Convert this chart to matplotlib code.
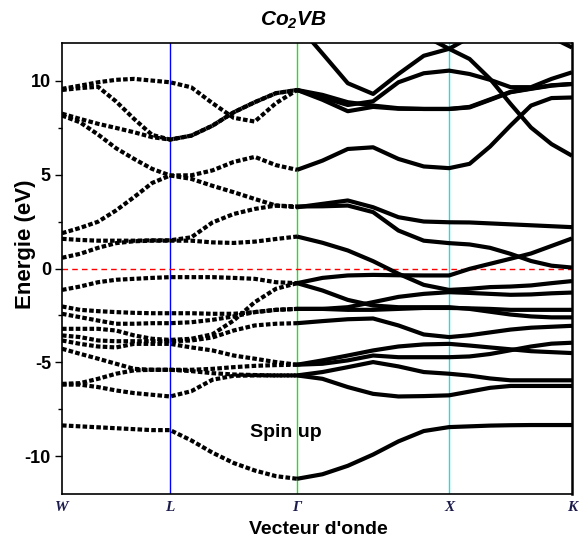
import numpy as np
import matplotlib
matplotlib.use("Agg")
import matplotlib.pyplot as plt

# ============================================================
# Data (energies in eV read at 7 k-points per segment W-L-G-X-K)
# ============================================================

k_labels = ["W", "L", "Γ", "X", "K"]
k_sym = [0.0, 0.212, 0.461, 0.759, 1.0]
k_vlines = [0.212, 0.461, 0.759]
vline_colors = ["#0000ff", "#22dd22", "#22dddd"]

band_01 = [-8.35, -8.4, -8.45, -8.5, -8.55, -8.6, -8.6, -9.15, -9.8, -10.35, -10.75, -11.05, -11.19,
           -10.95, -10.5, -9.9, -9.2, -8.65, -8.44, -8.4, -8.36, -8.34, -8.33, -8.33, -8.33]
band_02 = [-6.18, -6.18, -6.31, -6.49, -6.63, -6.72, -6.81, -6.53, -5.92, -5.71, -5.69, -5.69, -5.69,
           -5.87, -6.31, -6.67, -6.81, -6.79, -6.75, -6.55, -6.35, -6.25, -6.25, -6.25, -6.25]
band_03 = [-6.14, -6.1, -5.87, -5.6, -5.42, -5.39, -5.39, -5.46, -5.57, -5.64, -5.67, -5.69, -5.69,
           -5.51, -5.25, -4.98, -5.21, -5.51, -5.6, -5.7, -5.85, -5.95, -5.95, -5.95, -5.95]
band_04 = [-4.27, -4.54, -4.8, -5.07, -5.34, -5.39, -5.39, -5.39, -5.34, -5.25, -5.18, -5.14, -5.12,
           -5.07, -4.89, -4.63, -4.72, -4.72, -4.72, -4.68, -4.55, -4.35, -4.15, -4.0, -3.95]
band_05 = [-3.83, -4.01, -4.15, -4.2, -4.01, -4.01, -4.01, -4.2, -4.36, -4.63, -4.8, -4.98, -5.12,
           -4.89, -4.63, -4.36, -4.15, -4.04, -4.01, -4.1, -4.2, -4.3, -4.4, -4.45, -4.5]
band_06 = [-3.56, -3.65, -3.83, -3.87, -3.87, -3.87, -3.87, -3.83, -3.67, -3.3, -3.03, -2.94, -2.91,
           -2.8, -2.7, -2.66, -3.03, -3.51, -3.65, -3.55, -3.4, -3.25, -3.15, -3.1, -3.05]
band_07 = [-3.21, -3.21, -3.21, -3.3, -3.56, -3.74, -3.8, -3.74, -3.5, -2.77, -1.79, -1.08, -0.78,
           -1.17, -1.67, -1.97, -2.06, -2.06, -2.06, -2.15, -2.3, -2.45, -2.55, -2.6, -2.6]
band_08 = [-2.41, -2.59, -2.77, -2.94, -2.94, -2.91, -2.91, -2.86, -2.73, -2.55, -2.32, -2.2, -2.15,
           -2.15, -2.06, -1.79, -1.51, -1.35, -1.26, -1.3, -1.35, -1.4, -1.38, -1.32, -1.28]
band_09 = [-2.02, -2.2, -2.27, -2.32, -2.36, -2.38, -2.38, -2.38, -2.41, -2.41, -2.32, -2.2, -2.15,
           -2.15, -2.2, -2.2, -2.15, -2.1, -2.1, -2.12, -2.15, -2.2, -2.2, -2.2, -2.2]
band_10 = [-1.14, -0.96, -0.73, -0.6, -0.55, -0.5, -0.46, -0.46, -0.46, -0.5, -0.55, -0.73, -0.78,
           -0.5, -0.37, -0.34, -0.36, -0.37, -0.37, -0.02, 0.25, 0.52, 0.8, 1.2, 1.6]
band_11 = [0.57, 0.78, 1.1, 1.35, 1.45, 1.48, 1.48, 1.48, 1.39, 1.36, 1.43, 1.57, 1.7,
           1.37, 0.96, 0.39, -0.28, -0.87, -1.14, -1.08, -0.99, -0.96, -0.9, -0.78, -0.67]
band_12 = [1.58, 1.52, 1.48, 1.48, 1.48, 1.5, 1.5, 1.66, 2.45, 2.9, 3.17, 3.35, 3.3,
           3.31, 3.35, 3.0, 2.02, 1.48, 1.35, 1.28, 1.1, 0.78, 0.4, 0.15, 0.05]
band_13 = [1.88, 2.16, 2.49, 3.09, 3.8, 4.55, 4.95, 4.77, 4.4, 4.06, 3.7, 3.35, 3.26,
           3.44, 3.62, 3.26, 2.73, 2.5, 2.46, 2.45, 2.4, 2.35, 2.3, 2.25, 2.2]
band_14 = [8.14, 7.78, 7.13, 6.4, 5.83, 5.3, 4.95, 4.96, 5.22, 5.67, 5.94, 5.5, 5.25,
           5.74, 6.36, 6.45, 5.83, 5.43, 5.34, 5.57, 6.49, 7.61, 8.67, 9.07, 9.1]
band_15 = [8.24, 7.96, 7.7, 7.48, 7.25, 6.99, 6.86, 7.07, 7.6, 8.31, 8.85, 9.33, 9.5,
           9.24, 8.85, 8.67, 8.53, 8.49, 8.49, 8.57, 8.97, 9.38, 9.56, 9.73, 9.82]
band_16 = [9.5, 9.6, 9.67, 8.89, 7.96, 7.11, 6.86, 7.07, 7.6, 8.31, 8.85, 9.33, 9.5,
           9.1, 8.7, 8.9, 9.91, 10.39, 10.53, 10.35, 10.04, 9.65, 9.65, 10.09, 10.44]
band_17 = [9.56, 9.73, 9.91, 10.04, 10.09, 10.0, 9.91, 9.64, 8.8, 8.02, 7.82, 8.8, 9.5,
           8.98, 8.37, 8.6, 8.5, 8.49, 8.49, 8.6, 9.0, 9.4, 9.58, 9.75, 9.82]
band_18 = [np.nan] * 12 + [13.0, 11.44, 9.86, 9.29, 10.35, 11.32, 11.69,
                           11.15, 10.09, 8.76, 7.5, 6.62, 6.0]
band_19 = [np.nan] * 17 + [12.4, 11.69, 12.3, 13.0, 13.3, 13.0, 12.3, 11.76]

bands = [band_01, band_02, band_03, band_04, band_05, band_06, band_07, band_08, band_09,
         band_10, band_11, band_12, band_13, band_14, band_15, band_16, band_17, band_18, band_19]

# k grid: 7 points per segment, shared end points
k = [k_sym[0]]
for a, b in zip(k_sym[:-1], k_sym[1:]):
    k.extend(np.linspace(a, b, 7)[1:])
k = np.array(k)
i_gamma = 12

# ============================================================
# Figure
# ============================================================

plt.rcParams["font.family"] = ["Liberation Sans", "DejaVu Sans"]
plt.rcParams["axes.unicode_minus"] = False
plt.rcParams["mathtext.fontset"] = "custom"
plt.rcParams["mathtext.it"] = "Liberation Sans:italic:bold"
plt.rcParams["mathtext.rm"] = "Liberation Sans:italic:bold"

fig = plt.figure(figsize=(5.84, 5.46), dpi=100)
ax = fig.add_axes([62 / 584, 1 - 494 / 546, 510 / 584, 451 / 546])

for kv, c in zip(k_vlines, vline_colors):
    ax.axvline(kv, color=c, lw=1.0, zorder=1)

ax.axhline(0, color="red", lw=1.0, ls=(0, (4, 3)), zorder=1)

for band in bands:
    e = np.array(band, dtype=float)
    # dotted squares on W-L-Gamma, solid on Gamma-X-K
    ax.plot(k[:i_gamma + 1], e[:i_gamma + 1], color="black", lw=3.0,
            ls=(0, (1.1, 0.55)), dash_capstyle="butt", zorder=3)
    ax.plot(k[i_gamma:], e[i_gamma:], color="black", lw=3.0,
            solid_capstyle="butt", zorder=3)

ax.set_xlim(k_sym[0], k_sym[-1])
ax.set_ylim(-12, 12)

ax.set_yticks([-10, -5, 0, 5, 10])
ax.set_yticks(np.arange(-10, 12, 2.5), minor=True)
ax.tick_params(axis="y", which="major", direction="out", length=5, width=1.0,
               labelsize=13, pad=3)
ax.tick_params(axis="y", which="minor", direction="out", length=3, width=1.0)
for lab in ax.get_yticklabels():
    lab.set_fontweight("bold")

ax.set_xticks(k_sym)
ax.set_xticklabels(k_labels, family="Liberation Serif", style="italic",
                   fontweight="bold", fontsize=11, color="#1c1c4c")
ax.tick_params(axis="x", length=0, pad=5)

for s in ax.spines.values():
    s.set_linewidth(1.2)
ax.spines["right"].set_linewidth(1.8)

fig.text(293 / 584, 1 - 20 / 546, r"$Co_2VB$", fontsize=15, ha="center", va="center")
fig.text(25 / 584, 1 - 244 / 546, "Energie (eV)", fontsize=16, fontweight="bold",
         rotation=90, ha="center", va="center")
fig.text(318 / 584, 1 - 529 / 546, "Vecteur d'onde", fontsize=14, fontweight="bold",
         ha="center", va="center")
ax.text(0.439, -8.75, "Spin up", fontsize=14, fontweight="bold", ha="center", va="center")

plt.savefig("out.png", dpi=100)
plt.close()
